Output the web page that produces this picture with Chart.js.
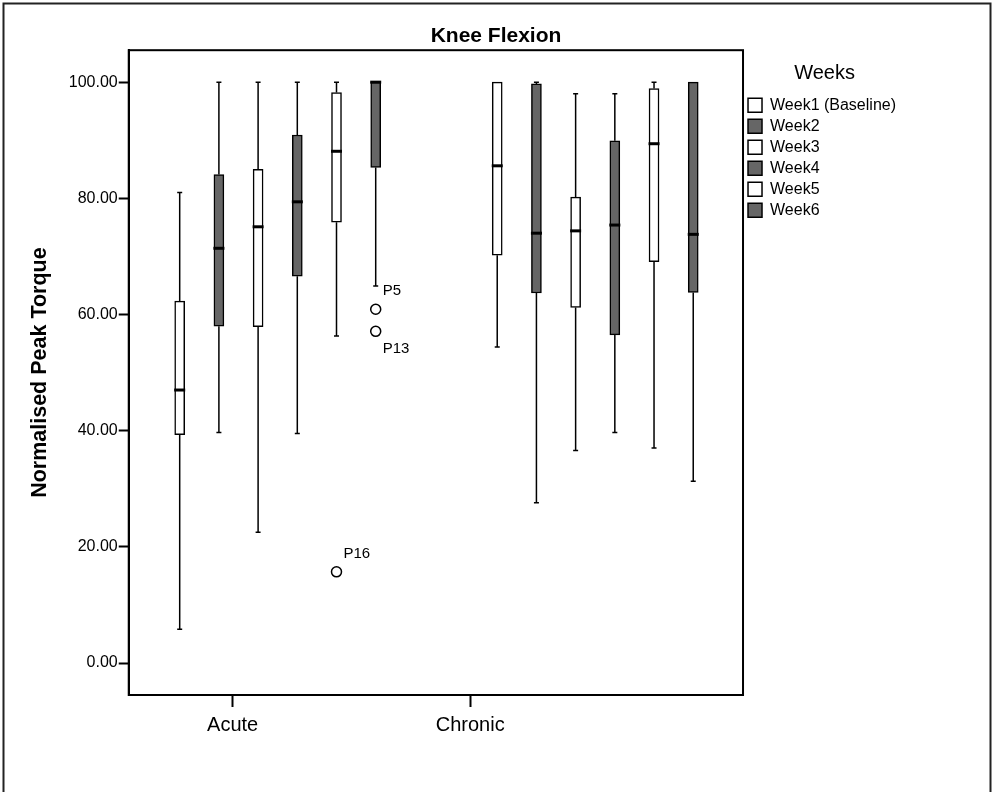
<!DOCTYPE html>
<html>
<head>
<meta charset="utf-8">
<script src="https://cdn.jsdelivr.net/npm/chart.js@4.4.1/dist/chart.umd.min.js"></script>
<style>
  body { margin: 0; background: #fff; }
</style>
</head>
<body>
<canvas id="chart" width="992" height="792"></canvas>
<script>
const groups = ['Acute', 'Chronic'];
const weeks = ['Week1 (Baseline)', 'Week2', 'Week3', 'Week4', 'Week5', 'Week6'];

// one row per week, [Acute, Chronic]
const whiskerMin = [[5.8, 54.4], [39.7, 27.6], [22.5, 36.6], [39.5, 39.7], [56.3, 37.0], [64.9, 31.3]];
const quartile1 = [[39.3, 70.2], [58.0, 63.7], [57.9, 61.2], [66.6, 56.5], [75.9, 69.1], [85.3, 63.8]];
const medians = [[47.0, 85.6], [71.4, 74.0], [75.1, 74.4], [79.4, 75.4], [88.1, 89.4], [100, 73.8]];
const quartile3 = [[62.3, 100], [84.1, 99.7], [85.0, 80.2], [90.9, 89.9], [98.2, 98.9], [100, 100]];
const whiskerMax = [[81.0, 100], [100, 100], [100, 98.0], [100, 98.0], [100, 100], [100, 100]];

const outlierGroup = [0, 0, 0];
const outlierWeek = [4, 5, 5];
const outlierValue = [15.7, 60.9, 57.1];
const outlierLabel = ['P16', 'P5', 'P13'];

const yTicks = [0, 20, 40, 60, 80, 100];

// x axis runs in box slots; SPSS puts the group ticks off-centre
const groupStart = [1.3, 9.4];
const groupTick = [2.65, 8.71];
const slotMax = 15.67;

Chart.defaults.font.family = "'Liberation Sans', Arial, sans-serif";
Chart.defaults.color = '#000';

function boxX(week, group) {
  return groupStart[group] + week;
}

const boxExtras = {
  id: 'boxExtras',
  afterLayout(chart) {
    // centre the title on the whole canvas, not the padded area
    if (chart.titleBlock) {
      chart.titleBlock.left = 0;
      chart.titleBlock.right = chart.width;
      chart.titleBlock.width = chart.width;
    }
  },
  beforeDatasetsDraw(chart) {
    const ctx = chart.ctx;
    const xs = chart.scales.x;
    const ys = chart.scales.y;
    ctx.save();
    ctx.strokeStyle = '#000';
    ctx.lineWidth = 1.5;
    weeks.forEach((w, i) => {
      groups.forEach((g, gi) => {
        const x = xs.getPixelForValue(boxX(i, gi));
        const yLo = ys.getPixelForValue(whiskerMin[i][gi]);
        const yQ1 = ys.getPixelForValue(quartile1[i][gi]);
        const yQ3 = ys.getPixelForValue(quartile3[i][gi]);
        const yHi = ys.getPixelForValue(whiskerMax[i][gi]);
        ctx.beginPath();
        ctx.moveTo(x, yQ3); ctx.lineTo(x, yHi);
        ctx.moveTo(x, yQ1); ctx.lineTo(x, yLo);
        if (yHi < yQ3 - 0.5) { ctx.moveTo(x - 2.5, yHi); ctx.lineTo(x + 2.5, yHi); }
        if (yLo > yQ1 + 0.5) { ctx.moveTo(x - 2.5, yLo); ctx.lineTo(x + 2.5, yLo); }
        ctx.stroke();
      });
    });
    ctx.restore();
  },
  afterDatasetsDraw(chart) {
    const ctx = chart.ctx;
    const xs = chart.scales.x;
    const ys = chart.scales.y;
    ctx.save();
    ctx.strokeStyle = '#000';
    ctx.lineWidth = 3;
    weeks.forEach((w, i) => {
      groups.forEach((g, gi) => {
        const x = xs.getPixelForValue(boxX(i, gi));
        const y = ys.getPixelForValue(medians[i][gi]);
        ctx.beginPath();
        ctx.moveTo(x - 5.5, y); ctx.lineTo(x + 5.5, y);
        ctx.stroke();
      });
    });

    // outliers with case labels
    ctx.lineWidth = 1.5;
    ctx.font = "15px 'Liberation Sans', Arial, sans-serif";
    ctx.textBaseline = 'middle';
    outlierValue.forEach((v, k) => {
      const x = xs.getPixelForValue(boxX(outlierWeek[k], outlierGroup[k]));
      const y = ys.getPixelForValue(v);
      ctx.beginPath();
      ctx.arc(x, y, 5, 0, Math.PI * 2);
      ctx.fillStyle = '#fff';
      ctx.fill();
      ctx.stroke();
      ctx.fillStyle = '#000';
      const below = outlierLabel[k] === 'P13';
      ctx.fillText(outlierLabel[k], x + 7, below ? y + 18 : y - 18);
    });
    ctx.restore();
  },
  afterDraw(chart) {
    const ctx = chart.ctx;
    const a = chart.chartArea;
    ctx.save();
    ctx.strokeStyle = '#000';
    ctx.lineWidth = 2;
    ctx.strokeRect(a.left, a.top, a.right - a.left, a.bottom - a.top);
    ctx.strokeStyle = '#222';
    ctx.strokeRect(3.5, 3.5, 987, 820);
    ctx.restore();
  }
};

new Chart(document.getElementById('chart'), {
  type: 'bar',
  data: {
    datasets: weeks.map((w, i) => ({
      label: w,
      data: groups.map((g, gi) => ({ x: boxX(i, gi), y: [quartile1[i][gi], quartile3[i][gi]] })),
      backgroundColor: i % 2 ? '#666666' : '#ffffff',
      borderColor: '#000',
      borderWidth: 1.5,
      borderSkipped: false,
      barThickness: 10,
      grouped: false
    }))
  },
  options: {
    responsive: false,
    animation: false,
    events: [],
    layout: { padding: { left: 0, right: 86, top: 0, bottom: 49 } },
    plugins: {
      title: {
        display: true,
        text: 'Knee Flexion',
        font: { size: 21, weight: 'bold' },
        color: '#000',
        padding: { top: 24, bottom: 1 }
      },
      legend: {
        position: 'right',
        align: 'start',
        fullSize: false,
        labels: {
          boxWidth: 14,
          boxHeight: 14,
          padding: 5,
          font: { size: 16 },
          color: '#000'
        },
        title: {
          display: true,
          text: 'Weeks',
          font: { size: 20 },
          color: '#000',
          padding: { top: 13, bottom: 5 }
        }
      },
      tooltip: { enabled: false }
    },
    scales: {
      x: {
        type: 'linear',
        min: 0,
        max: slotMax,
        offset: false,
        afterBuildTicks: s => { s.ticks = groupTick.map(v => ({ value: v })); },
        ticks: {
          callback: (v, idx) => groups[idx],
          font: { size: 20 },
          color: '#000',
          padding: 6,
          autoSkip: false,
          maxRotation: 0
        },
        grid: { offset: false, drawOnChartArea: false, tickLength: 12, tickColor: '#000', tickWidth: 2 },
        border: { color: '#000', width: 2 }
      },
      y: {
        type: 'linear',
        min: -5.5,
        max: 105.5,
        afterBuildTicks: s => { s.ticks = yTicks.map(v => ({ value: v })); },
        ticks: {
          callback: v => v.toFixed(2),
          font: { size: 16 },
          color: '#000',
          padding: 1
        },
        grid: { drawOnChartArea: false, tickLength: 10, tickColor: '#000', tickWidth: 2 },
        border: { color: '#000', width: 2 },
        title: {
          display: true,
          text: 'Normalised Peak Torque',
          font: { size: 21.5, weight: 'bold' },
          color: '#000',
          padding: { top: 27, bottom: 15 }
        }
      }
    }
  },
  plugins: [boxExtras]
});
</script>
</body>
</html>
